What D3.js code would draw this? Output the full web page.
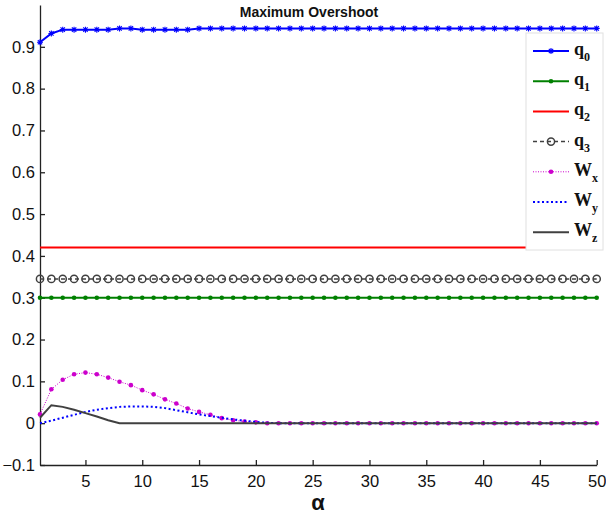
<!DOCTYPE html>
<html>
<head>
<meta charset="utf-8">
<script src="https://cdn.jsdelivr.net/npm/d3@7"></script>
<style>
  html, body { margin: 0; padding: 0; background: #fff; }
  svg { display: block; }
</style>
</head>
<body>
<svg id="chart" width="606" height="514"></svg>
<script>
// ---- data ----
const alpha = d3.range(1, 51);
const xTicks = [5, 10, 15, 20, 25, 30, 35, 40, 45, 50];
const yTicks = [-0.1, 0, 0.1, 0.2, 0.3, 0.4, 0.5, 0.6, 0.7, 0.8, 0.9];

const q0 = [0.911, 0.932, 0.941, 0.941, 0.941, 0.941, 0.941, 0.944, 0.944, 0.941,
            0.941, 0.941, 0.941, 0.941, 0.944, 0.944, 0.944, 0.944, 0.944, 0.944,
            0.944, 0.944, 0.944, 0.944, 0.944, 0.944, 0.944, 0.944, 0.944, 0.944,
            0.944, 0.944, 0.944, 0.944, 0.944, 0.944, 0.944, 0.944, 0.944, 0.944,
            0.944, 0.944, 0.944, 0.944, 0.944, 0.944, 0.944, 0.944, 0.944, 0.944];
const q1 = alpha.map(() => 0.30);
const q2 = alpha.map(() => 0.42);
const q3 = alpha.map(() => 0.345);
const Wx = [0.021, 0.081, 0.104, 0.117, 0.121, 0.117, 0.109, 0.099, 0.091, 0.079,
            0.069, 0.057, 0.047, 0.035, 0.027, 0.020, 0.012, 0.007, 0.004, 0.002,
            0, 0, 0, 0, 0, 0, 0, 0, 0, 0,
            0, 0, 0, 0, 0, 0, 0, 0, 0, 0,
            0, 0, 0, 0, 0, 0, 0, 0, 0, 0];
const Wy = [0, 0.006, 0.013, 0.020, 0.027, 0.032, 0.036, 0.039, 0.040, 0.040,
            0.039, 0.036, 0.031, 0.026, 0.021, 0.017, 0.013, 0.009, 0.006, 0.003,
            0.001, 0, 0, 0, 0, 0, 0, 0, 0, 0,
            0, 0, 0, 0, 0, 0, 0, 0, 0, 0,
            0, 0, 0, 0, 0, 0, 0, 0, 0, 0];
const Wz = [0.013, 0.043, 0.039, 0.032, 0.024, 0.016, 0.007, 0, 0, 0,
            0, 0, 0, 0, 0, 0, 0, 0, 0, 0,
            0, 0, 0, 0, 0, 0, 0, 0, 0, 0,
            0, 0, 0, 0, 0, 0, 0, 0, 0, 0,
            0, 0, 0, 0, 0, 0, 0, 0, 0, 0];

// ---- layout ----
const svg = d3.select("#chart");
const x = d3.scaleLinear().domain([1, 50]).range([40, 596.7]);
const y = d3.scaleLinear().domain([-0.1, 1.0]).range([465, 5]);

const axisColor = "#222";
const tickFont = "'Liberation Sans', Arial, sans-serif";

// series drawing order and styles
const series = [
  { name: "q", sub: "0", values: q0, color: "#0000ff", width: 2, dash: null, marker: "star" },
  { name: "q", sub: "1", values: q1, color: "#008000", width: 2, dash: null, marker: "dot" },
  { name: "q", sub: "2", values: q2, color: "#ff0000", width: 2, dash: null, marker: null },
  { name: "q", sub: "3", values: q3, color: "#404040", width: 1.5, dash: "4,3", marker: "circle" },
  { name: "W", sub: "x", values: Wx, color: "#cc00cc", width: 1, dash: "1,1.5", marker: "dot" },
  { name: "W", sub: "y", values: Wy, color: "#0000ff", width: 2, dash: "2,2.5", marker: null },
  { name: "W", sub: "z", values: Wz, color: "#404040", width: 2, dash: null, marker: null }
];

const starPath = "M-3,0H3M0,-3V3M-2.2,-2.2L2.2,2.2M-2.2,2.2L2.2,-2.2";

function drawMarker(g, type, color) {
  if (type === "star") {
    g.append("path").attr("d", starPath).attr("stroke", color)
      .attr("stroke-width", 1.1).attr("fill", "none");
  } else if (type === "dot") {
    g.append("circle").attr("r", 2.3).attr("fill", color);
  } else if (type === "circle") {
    g.append("circle").attr("r", 3.6).attr("fill", "none")
      .attr("stroke", color).attr("stroke-width", 1.5);
  }
}

// ---- axes ----
const xAxis = svg.append("g")
  .attr("transform", `translate(0,${y(-0.1)})`)
  .call(d3.axisBottom(x).tickValues(xTicks).tickSize(-5).tickPadding(10).tickSizeOuter(0));
xAxis.select(".domain").attr("stroke", axisColor).attr("stroke-width", 1.3);
xAxis.selectAll(".tick line").attr("stroke", axisColor).attr("stroke-width", 1.3);
xAxis.selectAll(".tick text").attr("fill", "#111")
  .style("font-family", tickFont).style("font-size", "16.5px");

const yAxis = svg.append("g")
  .attr("transform", `translate(${x(1)},0)`)
  .call(d3.axisLeft(y).tickValues(yTicks).tickSize(-5).tickPadding(5).tickSizeOuter(0)
    .tickFormat(d => d3.format("")(+d.toFixed(1))));
yAxis.select(".domain").attr("stroke", axisColor).attr("stroke-width", 1.3);
yAxis.selectAll(".tick line").attr("stroke", axisColor).attr("stroke-width", 1.3);
yAxis.selectAll(".tick text").attr("fill", "#111")
  .style("font-family", tickFont).style("font-size", "16.5px");

// ---- series ----
const line = d3.line().x((d, i) => x(alpha[i])).y(d => y(d));
series.forEach(s => {
  const g = svg.append("g");
  g.append("path")
    .attr("d", line(s.values))
    .attr("fill", "none")
    .attr("stroke", s.color)
    .attr("stroke-width", s.width)
    .attr("stroke-dasharray", s.dash);
  if (s.marker) {
    s.values.forEach((v, i) => {
      const m = g.append("g").attr("transform", `translate(${x(alpha[i])},${y(v)})`);
      drawMarker(m, s.marker, s.color);
    });
  }
});

// ---- title & axis label ----
svg.append("text")
  .attr("x", 309).attr("y", 17)
  .attr("text-anchor", "middle")
  .style("font-family", tickFont).style("font-weight", "bold").style("font-size", "14px")
  .attr("fill", "#111")
  .text("Maximum Overshoot");

svg.append("text")
  .attr("x", 318).attr("y", 510)
  .attr("text-anchor", "middle")
  .style("font-family", tickFont).style("font-weight", "bold").style("font-size", "22px")
  .attr("fill", "#111")
  .text("α");

// ---- legend ----
const legend = svg.append("g");
legend.append("rect")
  .attr("x", 526).attr("y", 33).attr("width", 77).attr("height", 217)
  .attr("fill", "#fff").attr("stroke", "#e0e0e0").attr("stroke-width", 1);

series.forEach((s, i) => {
  const cy = 51 + i * 30.2;
  const item = legend.append("g");
  item.append("line")
    .attr("x1", 533).attr("x2", 569).attr("y1", cy).attr("y2", cy)
    .attr("stroke", s.color).attr("stroke-width", s.width)
    .attr("stroke-dasharray", s.dash);
  if (s.marker) {
    const m = item.append("g").attr("transform", `translate(551,${cy})`);
    drawMarker(m, s.marker, s.color);
  }
  const t = item.append("text")
    .attr("x", 574).attr("y", cy + 4)
    .style("font-family", "'Liberation Serif', 'Times New Roman', serif")
    .style("font-weight", "bold").style("font-size", "18px")
    .attr("fill", "#111");
  t.append("tspan").text(s.name);
  t.append("tspan").attr("dy", 6).style("font-size", "12px").text(s.sub);
});
</script>
</body>
</html>
